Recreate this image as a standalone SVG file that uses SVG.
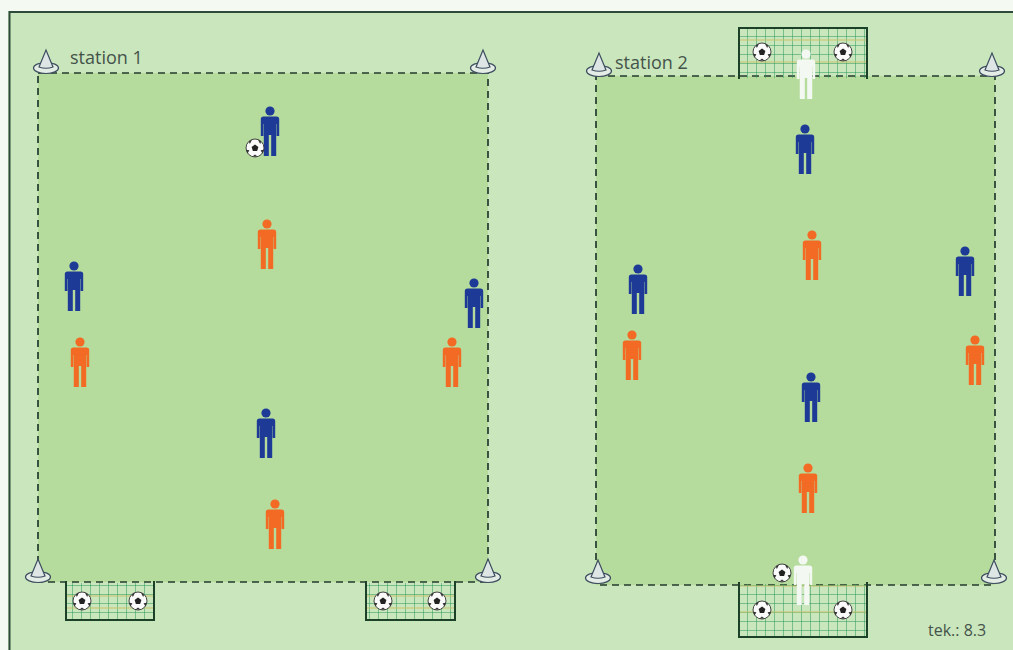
<svg xmlns="http://www.w3.org/2000/svg" xmlns:xlink="http://www.w3.org/1999/xlink" width="1013" height="650" viewBox="0 0 1013 650">
  <style>
    .field { fill: #b6dc9d; stroke: #243a2e; stroke-width: 1.7; stroke-dasharray: 7 5; }
    .label { font-family: "Open Sans", "Liberation Sans", sans-serif; font-size: 18px; fill: #44534a; }
    .note { font-family: "Open Sans", "Liberation Sans", sans-serif; font-size: 16px; fill: #44534a; }
    .blue { fill: #1d3a96; }
    .orange { fill: #f26a24; }
    .white { fill: #f4f8f2; }
    .frame { fill: none; stroke: #1b4228; stroke-width: 2; }
    .netY { stroke: #c9c36a; stroke-width: 1; }
  </style>
  <defs>
    <!-- player silhouette, centred at the waist -->
    <g id="player">
      <circle cx="0" cy="-20" r="4.6"/>
      <path d="M-6.5,-14.5 H6.5 Q9.2,-14.5 9.2,-12 V5 H6.6 V-7 H6.2 V25 H1.2 V4 H-1.2 V25 H-6.2 V-7 H-6.6 V5 H-9.2 V-12 Q-9.2,-14.5 -6.5,-14.5 Z"/>
    </g>
    <!-- football -->
    <g id="ball">
      <circle r="9" fill="#fafafa" stroke="#444" stroke-width="1"/>
      <path d="M0,-3.6 L3.4,-1.1 L2.1,2.9 L-2.1,2.9 L-3.4,-1.1 Z" fill="#222"/>
      <path d="M-6.2,-6.5 L-2.8,-8.5 L-5.2,-4 Z M6.2,-6.5 L2.8,-8.5 L5.2,-4 Z M-8.8,1.7 L-7.4,5.4 L-5.6,2.2 Z M8.8,1.7 L7.4,5.4 L5.6,2.2 Z M-2.5,8.6 L2.5,8.6 L0,6.5 Z" fill="#333"/>
    </g>
    <!-- marker cone -->
    <g id="cone">
      <ellipse cx="0" cy="6" rx="12.5" ry="5.5" fill="#e4ece6" stroke="#3c4d5e" stroke-width="1.2"/>
      <path d="M-7,5 L0,-12 L7,5 Q0,7.5 -7,5 Z" fill="#dde6e4" stroke="#3c4d5e" stroke-width="1.2"/>
    </g>
    <!-- goal net pattern -->
    <pattern id="netGrid" width="9" height="9" patternUnits="userSpaceOnUse">
      <path d="M0,0 V9 M0,0 H9" stroke="#23955a" stroke-width="1" fill="none"/>
    </pattern>
  </defs>

  <!-- background and frame -->
  <rect x="0" y="0" width="1013" height="650" fill="#cae6bd"/>
  <rect x="0" y="0" width="1013" height="11" fill="#f4faf2"/>
  <rect x="0" y="0" width="8" height="650" fill="#f4faf2"/>
  <path d="M1013,12 H9.5 V650" fill="none" stroke="#2d4a3a" stroke-width="2"/>

  <!-- playing areas -->
  <g id="field-1">
    <rect class="field" x="38" y="73" width="450" height="509"/>
  </g>
  <g id="field-2">
    <rect class="field" x="596" y="76" width="399" height="509"/>
  </g>

  <!-- goals -->
  <g id="goal-1a">
    <rect x="66" y="583" width="88" height="37" fill="url(#netGrid)"/>
    <line class="netY" x1="66" y1="596" x2="154" y2="596"/>
    <line class="netY" x1="66" y1="608" x2="154" y2="608"/>
    <path class="frame" d="M66,581 V620 H154 V581"/>
    <use xlink:href="#ball" x="82" y="601"/>
    <use xlink:href="#ball" x="138" y="601"/>
  </g>
  <g id="goal-1b">
    <rect x="366" y="583" width="89" height="37" fill="url(#netGrid)"/>
    <line class="netY" x1="366" y1="596" x2="455" y2="596"/>
    <line class="netY" x1="366" y1="608" x2="455" y2="608"/>
    <path class="frame" d="M366,581 V620 H455 V581"/>
    <use xlink:href="#ball" x="383" y="601"/>
    <use xlink:href="#ball" x="437" y="601"/>
  </g>
  <g id="goal-2top">
    <rect x="739" y="28" width="128" height="50" fill="url(#netGrid)"/>
    <line class="netY" x1="739" y1="40" x2="867" y2="40"/>
    <line class="netY" x1="739" y1="62" x2="867" y2="62"/>
    <path class="frame" d="M739,79 V28 H867 V79"/>
    <use xlink:href="#ball" x="762" y="52"/>
    <use xlink:href="#ball" x="843" y="52"/>
  </g>
  <g id="goal-2bottom">
    <rect x="739" y="584" width="128" height="53" fill="url(#netGrid)"/>
    <line class="netY" x1="739" y1="586" x2="867" y2="586"/>
    <line class="netY" x1="739" y1="612" x2="867" y2="612"/>
    <path class="frame" d="M739,582 V637 H867 V582"/>
    <use xlink:href="#ball" x="762" y="610"/>
    <use xlink:href="#ball" x="843" y="610"/>
  </g>

  <!-- cones -->
  <g id="cones">
    <use xlink:href="#cone" x="46" y="62"/>
    <use xlink:href="#cone" x="483" y="62"/>
    <use xlink:href="#cone" x="38" y="571"/>
    <use xlink:href="#cone" x="488" y="571"/>
    <use xlink:href="#cone" x="599" y="65"/>
    <use xlink:href="#cone" x="992" y="65"/>
    <use xlink:href="#cone" x="598" y="572"/>
    <use xlink:href="#cone" x="994" y="572"/>
  </g>

  <!-- labels -->
  <text class="label" x="70" y="64">station 1</text>
  <text class="label" x="615" y="69">station 2</text>
  <text class="note" x="928" y="636">tek.: 8.3</text>

  <!-- station 1 players -->
  <g id="s1-players">
    <use xlink:href="#player" class="blue" x="270" y="131"/>
    <use xlink:href="#ball" x="255" y="148"/>
    <use xlink:href="#player" class="orange" x="267" y="244"/>
    <use xlink:href="#player" class="blue" x="74" y="286"/>
    <use xlink:href="#player" class="blue" x="474" y="303"/>
    <use xlink:href="#player" class="orange" x="80" y="362"/>
    <use xlink:href="#player" class="orange" x="452" y="362"/>
    <use xlink:href="#player" class="blue" x="266" y="433"/>
    <use xlink:href="#player" class="orange" x="275" y="524"/>
  </g>

  <!-- station 2 players -->
  <g id="s2-players">
    <use xlink:href="#player" class="white" x="806" y="74"/>
    <use xlink:href="#player" class="blue" x="805" y="149"/>
    <use xlink:href="#player" class="orange" x="812" y="255"/>
    <use xlink:href="#player" class="blue" x="638" y="289"/>
    <use xlink:href="#player" class="blue" x="965" y="271"/>
    <use xlink:href="#player" class="orange" x="632" y="355"/>
    <use xlink:href="#player" class="orange" x="975" y="360"/>
    <use xlink:href="#player" class="blue" x="811" y="397"/>
    <use xlink:href="#player" class="orange" x="808" y="488"/>
    <use xlink:href="#ball" x="782" y="573"/>
    <use xlink:href="#player" class="white" x="803" y="580"/>
  </g>
</svg>
